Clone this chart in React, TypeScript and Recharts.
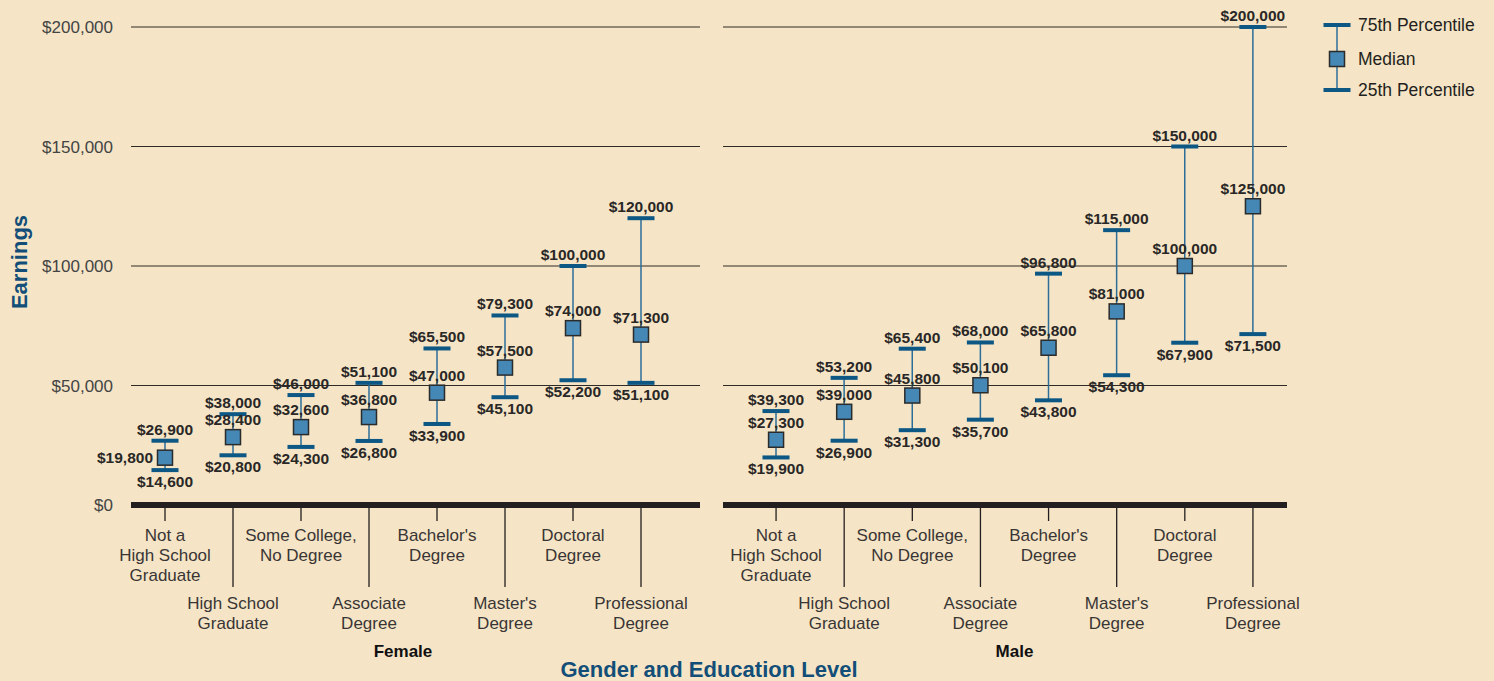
import React from 'react';
import { ComposedChart, Bar, Line, XAxis, YAxis, CartesianGrid, Legend, Label } from 'recharts';

const categories = [
  'Not a\nHigh School\nGraduate',
  'High School\nGraduate',
  'Some College,\nNo Degree',
  'Associate\nDegree',
  "Bachelor's\nDegree",
  "Master's\nDegree",
  'Doctoral\nDegree',
  'Professional\nDegree',
];
const femaleP25 = [14600, 20800, 24300, 26800, 33900, 45100, 52200, 51100];
const femaleMedian = [19800, 28400, 32600, 36800, 47000, 57500, 74000, 71300];
const femaleP75 = [26900, 38000, 46000, 51100, 65500, 79300, 100000, 120000];
const maleP25 = [19900, 26900, 31300, 35700, 43800, 54300, 67900, 71500];
const maleMedian = [27300, 39000, 45800, 50100, 65800, 81000, 100000, 125000];
const maleP75 = [39300, 53200, 65400, 68000, 96800, 115000, 150000, 200000];
const yTicks = [0, 50000, 100000, 150000, 200000];
const legendItems = ['75th Percentile', 'Median', '25th Percentile'];
const panelNames = ['Female', 'Male'];
const axisTitleX = 'Gender and Education Level';
const axisTitleY = 'Earnings';

const BG = '#F5E5C6';
const CAP = '#0D5784';
const WHISKER = '#2C6E98';
const SQ = '#4587B5';
const SQ_STROKE = '#2b2b2b';
const TITLE = '#124E78';
const FONT = "'Liberation Sans', Arial, Helvetica, sans-serif";

const fmt = (v: number) => '$' + v.toLocaleString('en-US');

const build = (p25: number[], med: number[], p75: number[]) =>
  categories.map((c, i) => ({ cat: c, range: [p25[i], p75[i]], p25: p25[i], median: med[i], p75: p75[i] }));

const femaleData = build(femaleP25, femaleMedian, femaleP75);
const maleData = build(maleP25, maleMedian, maleP75);

const valueText = { fontSize: 15.5, fontWeight: 700, fill: '#2a2727', fontFamily: FONT } as const;

const RangeShape = (props: any) => {
  const { x, y, width, height, payload } = props;
  const cx = x + width / 2;
  const top = Math.min(y, y + height);
  const bot = Math.max(y, y + height);
  return (
    <g>
      <line x1={cx} x2={cx} y1={top} y2={bot} stroke={WHISKER} strokeWidth={1.5} />
      <rect x={cx - 13.5} y={top - 2} width={27} height={4} fill={CAP} />
      <rect x={cx - 13.5} y={bot - 2} width={27} height={4} fill={CAP} />
      <text x={cx} y={top - 6} textAnchor="middle" {...valueText}>{fmt(payload.p75)}</text>
      <text x={cx} y={bot + 17} textAnchor="middle" {...valueText}>{fmt(payload.p25)}</text>
    </g>
  );
};

const makeMedianDot = (leftIndex: number) => (props: any) => {
  const { cx, cy, payload, index } = props;
  const left = index === leftIndex;
  return (
    <g key={`m-${index}`}>
      <rect x={cx - 7.5} y={cy - 7.5} width={15} height={15} fill={SQ} stroke={SQ_STROKE} strokeWidth={1.5} />
      <text
        x={left ? cx - 12 : cx}
        y={left ? cy + 5.5 : cy - 12}
        textAnchor={left ? 'end' : 'middle'}
        {...valueText}
      >
        {fmt(payload.median)}
      </text>
    </g>
  );
};

const CatTick = (props: any) => {
  const { x, y, payload } = props;
  const i = payload.index;
  const long = i % 2 === 1;
  const lines = String(payload.value).split('\n');
  const tickEnd = long ? y + 82 : y + 16;
  const firstBaseline = long ? y + 104 : y + 36;
  return (
    <g>
      <line x1={x} x2={x} y1={y + 2} y2={tickEnd} stroke="#231f20" strokeWidth={1.3} />
      {lines.map((l, k) => (
        <text key={k} x={x} y={firstBaseline + k * 20} textAnchor="middle" fontSize={17} fill="#3a3535" fontFamily={FONT}>
          {l}
        </text>
      ))}
    </g>
  );
};

const PanelLabel = (padL: number, padR: number, text: string) => (props: any) => {
  const vb = props.viewBox || {};
  const cx = vb.x + padL + (vb.width - padL - padR) / 2;
  return (
    <text x={cx} y={657} textAnchor="middle" fontSize={17} fontWeight={700} fill="#111" fontFamily={FONT}>
      {text}
    </text>
  );
};

const EarningsLabel = (props: any) => {
  const vb = props.viewBox || {};
  const cx = vb.x + 19;
  const cy = vb.y + vb.height / 2 - 4;
  return (
    <text
      x={cx}
      y={cy}
      transform={`rotate(-90 ${cx} ${cy})`}
      textAnchor="middle"
      dominantBaseline="central"
      fontSize={22}
      fontWeight={700}
      fill={TITLE}
      fontFamily={FONT}
    >
      {axisTitleY}
    </text>
  );
};

const LegendContent = () => (
  <svg width={180} height={100} style={{ overflow: 'visible' }}>
    <line x1={17} x2={17} y1={17} y2={82} stroke={WHISKER} strokeWidth={1.5} />
    <rect x={3.5} y={15} width={27} height={4} fill={CAP} />
    <rect x={9.5} y={43.5} width={15} height={15} fill={SQ} stroke={SQ_STROKE} strokeWidth={1.5} />
    <rect x={3.5} y={80} width={27} height={4} fill={CAP} />
    {legendItems.map((t, k) => (
      <text key={t} x={38} y={[17, 51, 82][k]} dominantBaseline="central" fontSize={17.5} fill="#231f20" fontFamily={FONT}>
        {t}
      </text>
    ))}
  </svg>
);

const gridStroke = '#2e2a25';

export default function App() {
  return (
    <div style={{ position: 'relative', width: 1494, height: 681, background: BG, overflow: 'hidden', fontFamily: FONT }}>
      <style>{'body{margin:0;}'}</style>
      <div style={{ position: 'absolute', left: 0, top: 0 }}>
        <ComposedChart width={720} height={681} data={femaleData} margin={{ top: 27, right: 20, bottom: 0, left: 0 }}>
          <CartesianGrid vertical={false} stroke={gridStroke} strokeWidth={1} />
          <YAxis
            type="number"
            domain={[0, 200000]}
            ticks={yTicks}
            width={131}
            axisLine={false}
            tickLine={false}
            tickSize={0}
            tickMargin={18}
            tickFormatter={fmt}
            tick={{ fontSize: 17, fill: '#444', fontFamily: FONT }}
          >
            <Label content={EarningsLabel} />
          </YAxis>
          <XAxis
            dataKey="cat"
            type="category"
            interval={0}
            tickLine={false}
            tickSize={0}
            tickMargin={0}
            height={176}
            padding={{ left: 0, right: 25 }}
            axisLine={{ stroke: '#231f20', strokeWidth: 6 }}
            tick={<CatTick />}
          >
            <Label content={PanelLabel(0, 25, panelNames[0])} />
          </XAxis>
          <Bar dataKey="range" barSize={28} isAnimationActive={false} shape={<RangeShape />} />
          <Line dataKey="median" stroke="none" isAnimationActive={false} dot={makeMedianDot(0)} activeDot={false} />
        </ComposedChart>
      </div>
      <div style={{ position: 'absolute', left: 700, top: 0 }}>
        <ComposedChart width={794} height={681} data={maleData} margin={{ top: 27, right: 207, bottom: 0, left: 23 }}>
          <CartesianGrid vertical={false} stroke={gridStroke} strokeWidth={1} />
          <YAxis type="number" domain={[0, 200000]} ticks={yTicks} hide />
          <XAxis
            dataKey="cat"
            type="category"
            interval={0}
            tickLine={false}
            tickSize={0}
            tickMargin={0}
            height={176}
            padding={{ left: 19, right: 0 }}
            axisLine={{ stroke: '#231f20', strokeWidth: 6 }}
            tick={<CatTick />}
          >
            <Label content={PanelLabel(19, 0, panelNames[1])} />
          </XAxis>
          <Bar dataKey="range" barSize={28} isAnimationActive={false} shape={<RangeShape />} />
          <Line dataKey="median" stroke="none" isAnimationActive={false} dot={makeMedianDot(-1)} activeDot={false} />
          <Legend
            layout="vertical"
            align="center"
            verticalAlign="middle"
            content={<LegendContent />}
            wrapperStyle={{ left: 620, top: 8, width: 180, height: 100, right: 'auto', bottom: 'auto', margin: 0 }}
          />
        </ComposedChart>
      </div>
      <div
        style={{
          position: 'absolute',
          left: 409,
          width: 600,
          top: 658,
          textAlign: 'center',
          fontSize: 22,
          lineHeight: '24px',
          fontWeight: 700,
          color: TITLE,
          fontFamily: FONT,
        }}
      >
        {axisTitleX}
      </div>
    </div>
  );
}
